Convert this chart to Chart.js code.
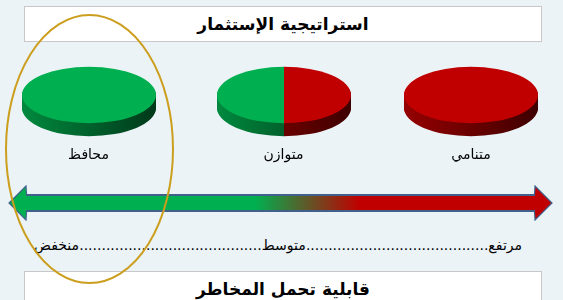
<!DOCTYPE html>
<html lang="ar">
<head>
<meta charset="utf-8">
<script src="https://cdn.jsdelivr.net/npm/chart.js@4.4.0/dist/chart.umd.min.js"></script>
<style>
  body { margin: 0; background: #EBF3F7; }
  #stage { position: relative; width: 563px; height: 300px; overflow: hidden; background: #EBF3F7;
           font-family: "DejaVu Sans", sans-serif; }
  .box { position: absolute; left: 24px; width: 516px; background: #fff; border: 1px solid #C8C8C8;
         text-align: center; font-weight: bold; font-size: 17px; color: #000; }
  .disc { position: absolute; }
  .label { position: absolute; width: 120px; text-align: center; font-size: 14px; color: #000; }
  #risk { position: absolute; left: 34px; width: 488px; top: 237px; display: flex; direction: rtl;
          font-size: 14px; white-space: nowrap; color: #000; }
  #risk .fill { flex: 1; overflow: hidden; }
  #overlay { position: absolute; left: 0; top: 0; pointer-events: none; }
</style>
</head>
<body>
<div id="stage">
  <div class="box" id="topTitle" style="top:6px;height:34px;line-height:34px"></div>
  <div class="box" id="bottomTitle" style="top:271px;height:40px;line-height:34px"></div>
  <div id="risk"></div>
  <canvas id="overlay" width="563" height="300"></canvas>
</div>
<script>
const title = 'استراتيجية الإستثمار';
const axisTitle = 'قابلية تحمل المخاطر';
const categories = ['محافظ', 'متوازن', 'متنامي'];
const redShare = [0, 50, 100];
const greenShare = [100, 50, 0];
const riskLevels = ['منخفض', 'متوسط', 'مرتفع'];
const riskScale = [0, 2];
const highlighted = 0;

const GREEN = '#00B050';
const RED = '#C00000';
const OUTLINE = '#41618C';
const discX = [88.5, 283.5, 471];
const DISC_Y = 95;
const RX = 67, K = 0.42, DEPTH = 13;

document.getElementById('topTitle').textContent = title;
document.getElementById('bottomTitle').textContent = axisTitle;

// dotted risk line, read right to left: high ... mid ... low
const risk = document.getElementById('risk');
riskLevels.slice().reverse().forEach((word, i) => {
    if (i > 0) {
        const f = document.createElement('span');
        f.className = 'fill';
        f.textContent = '.'.repeat(80);
        risk.appendChild(f);
    }
    const w = document.createElement('span');
    w.textContent = word;
    risk.appendChild(w);
});

// flattened pie with a shaded side
const disc3d = {
    id: 'disc3d',
    beforeDatasetsDraw(chart) {
        const ctx = chart.ctx;
        const meta = chart.getDatasetMeta(0);
        const cy = meta.data[0].y;
        ctx.save();
        ctx.translate(0, cy * (1 - K));
        ctx.scale(1, K);
        for (let off = DEPTH; off > 0; off--) {
            ctx.save();
            ctx.translate(0, off / K);
            meta.data.forEach(arc => arc.draw(ctx));
            ctx.restore();
        }
        const { left, right } = chart.chartArea;
        const cx = meta.data[0].x;
        const g = ctx.createLinearGradient(cx - RX, 0, cx + RX, 0);
        g.addColorStop(0, 'rgba(0,0,0,0.22)');
        g.addColorStop(1, 'rgba(0,0,0,0.68)');
        ctx.globalCompositeOperation = 'source-atop';
        ctx.fillStyle = g;
        ctx.fillRect(left, -1000, right - left, 3000);
        ctx.globalCompositeOperation = 'source-over';
    },
    afterDatasetsDraw(chart) {
        chart.ctx.restore();
    }
};

const stage = document.getElementById('stage');
const overlay = document.getElementById('overlay');

categories.forEach((name, i) => {
    const canvas = document.createElement('canvas');
    canvas.className = 'disc';
    canvas.width = 150;
    canvas.height = 140;
    canvas.style.left = (discX[i] - 75) + 'px';
    canvas.style.top = (DISC_Y - 70) + 'px';
    stage.insertBefore(canvas, overlay);

    const label = document.createElement('div');
    label.className = 'label';
    label.textContent = name;
    label.style.left = (discX[i] - 60) + 'px';
    label.style.top = '146px';
    stage.insertBefore(label, overlay);

    new Chart(canvas, {
        type: 'pie',
        data: {
            labels: ['مرتفع', 'منخفض'],
            datasets: [{
                data: [redShare[i], greenShare[i]],
                backgroundColor: [RED, GREEN],
                borderWidth: 0
            }]
        },
        options: {
            responsive: false,
            animation: false,
            events: [],
            radius: RX,
            plugins: { legend: { display: false }, tooltip: { enabled: false } }
        },
        plugins: [disc3d]
    });
});

// arrowhead marker, pointing left
function makeHead(color) {
    const c = document.createElement('canvas');
    c.width = 36;
    c.height = 36;
    const g = c.getContext('2d');
    g.beginPath();
    g.moveTo(18, 1); g.lineTo(1, 18); g.lineTo(18, 35); g.closePath();
    g.fillStyle = color;
    g.fill();
    g.strokeStyle = OUTLINE;
    g.lineWidth = 1.2;
    g.beginPath();
    g.moveTo(18.5, 9); g.lineTo(18, 1); g.lineTo(1, 18); g.lineTo(18, 35); g.lineTo(18.5, 27);
    g.stroke();
    return c;
}

const arrowPoints = riskScale.map(x => ({ x, y: 0 }));

const highlight = {
    id: 'highlight',
    afterDraw(chart) {
        const ctx = chart.ctx;
        ctx.save();
        ctx.strokeStyle = '#CC9E1E';
        ctx.lineWidth = 2;
        ctx.beginPath();
        ctx.ellipse(discX[highlighted] + 1, 149, 83.5, 134, 0, 0, Math.PI * 2);
        ctx.stroke();
        ctx.restore();
    }
};

new Chart(overlay, {
    type: 'line',
    data: {
        datasets: [{
            data: arrowPoints,
            borderColor: OUTLINE,
            borderWidth: 18,
            borderCapStyle: 'butt',
            pointRadius: 0,
            clip: false,
            order: 2
        }, {
            data: arrowPoints,
            borderColor: (c) => {
                const area = c.chart.chartArea;
                if (!area) return GREEN;
                const g = c.chart.ctx.createLinearGradient(area.left, 0, area.right, 0);
                g.addColorStop(0.45, GREEN);
                g.addColorStop(0.655, RED);
                return g;
            },
            borderWidth: 14,
            borderCapStyle: 'butt',
            pointStyle: [makeHead(GREEN), makeHead(RED)],
            rotation: [0, 180],
            pointRadius: 2,
            clip: false,
            order: 1
        }]
    },
    options: {
        responsive: false,
        animation: false,
        events: [],
        layout: { padding: { left: 26, right: 28, top: 188, bottom: 82 } },
        scales: {
            x: { type: 'linear', display: false, min: riskScale[0], max: riskScale[1] },
            y: { display: false, min: -1, max: 1 }
        },
        plugins: { legend: { display: false }, tooltip: { enabled: false } }
    },
    plugins: [highlight]
});
</script>
</body>
</html>
